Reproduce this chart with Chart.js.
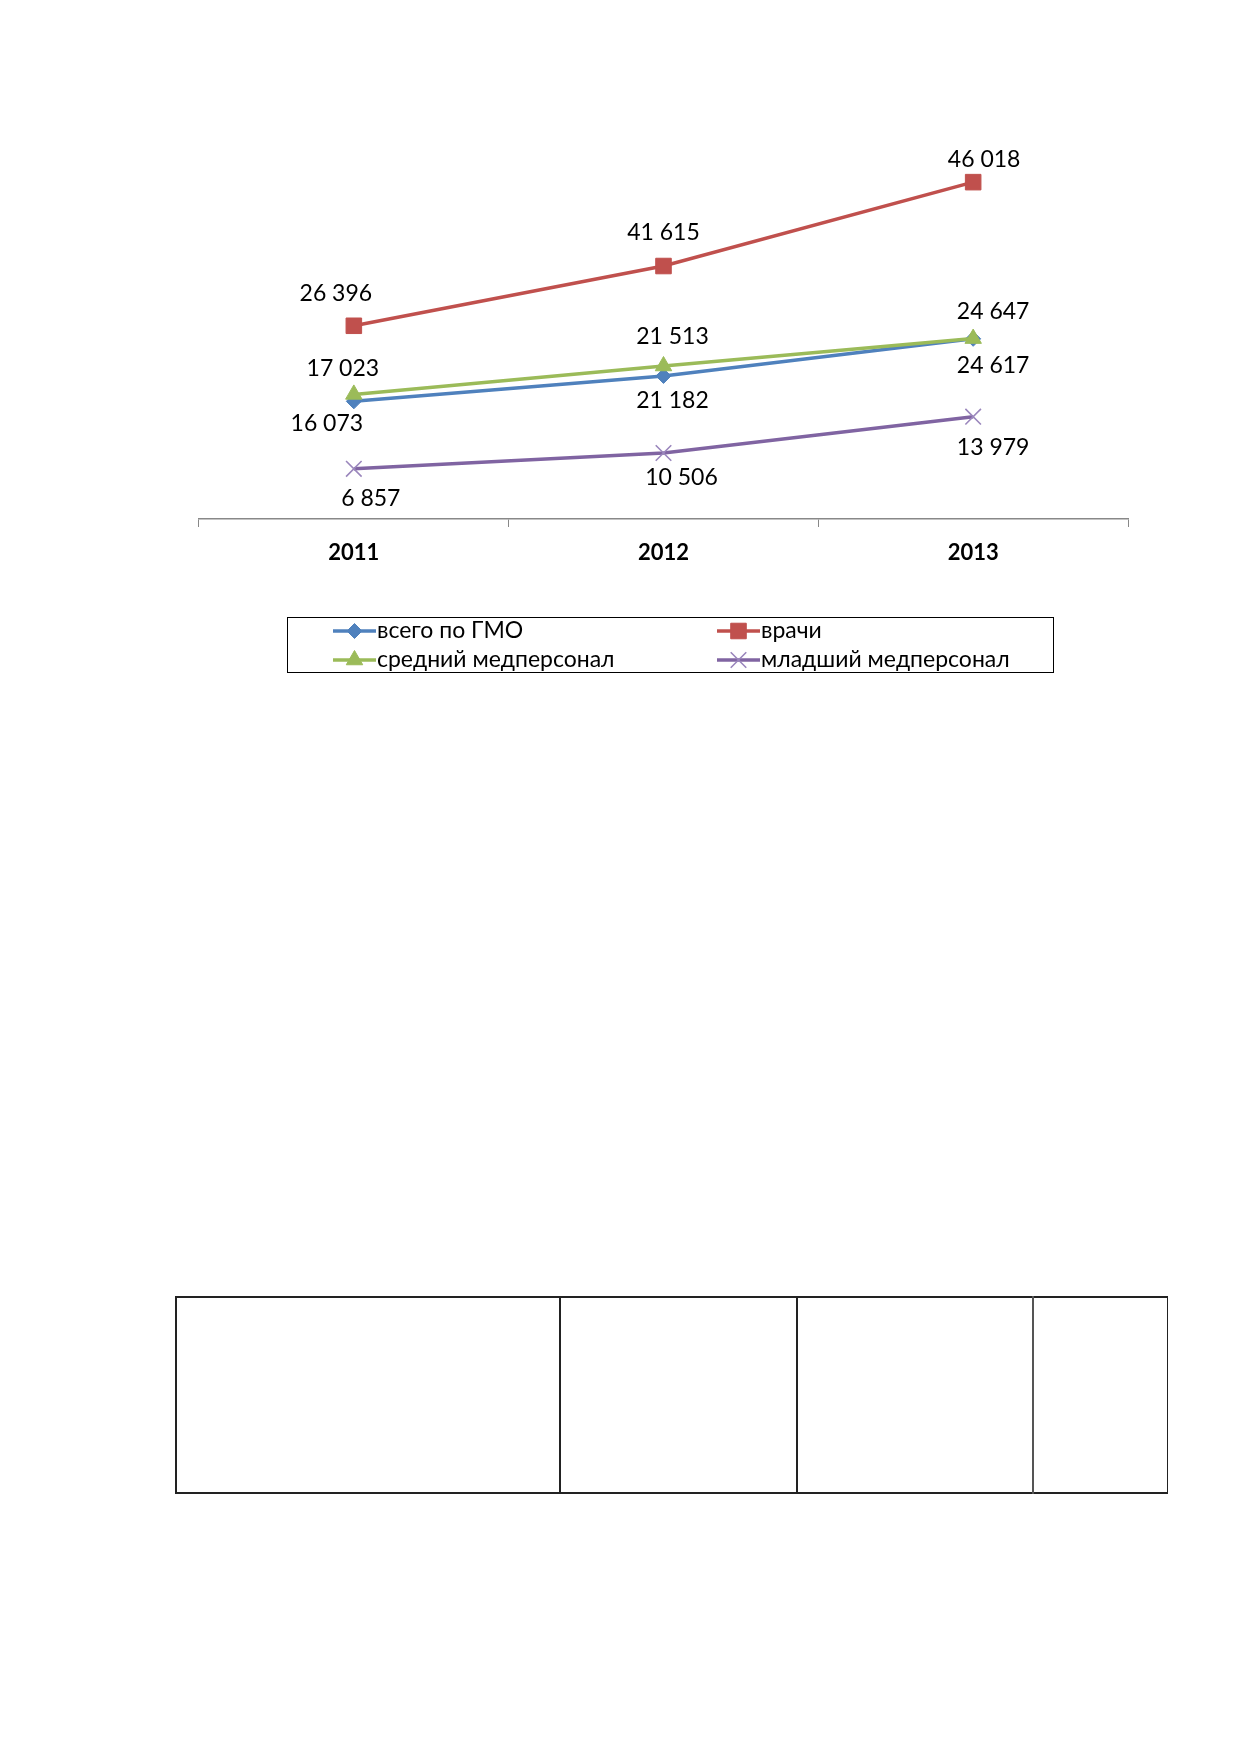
<!DOCTYPE html>
<html>
<head>
<meta charset="utf-8">
<script src="https://cdn.jsdelivr.net/npm/chart.js@4.4.0/dist/chart.umd.min.js"></script>
<style>
  html, body { margin: 0; padding: 0; background: #ffffff; }
  body { width: 1239px; height: 1752px; position: relative; overflow: hidden; }
  #wrap { position: absolute; left: 0; top: 0; width: 1239px; height: 700px; }
  .tbl { position: absolute; box-sizing: border-box; border-color: #222; border-style: solid; border-width: 0; }
</style>
</head>
<body>
<div id="wrap"><canvas id="c" width="1239" height="700"></canvas></div>
<div class="tbl" style="left:175px; top:1296px; width:993px; height:198px; border-width:2px 1px 2px 2px;"></div>
<div class="tbl" style="left:559px; top:1296px; width:2px; height:198px; border-left-width:2px;"></div>
<div class="tbl" style="left:796px; top:1296px; width:2px; height:198px; border-left-width:2px;"></div>
<div class="tbl" style="left:1032px; top:1296px; width:2px; height:198px; border-left-width:2px; border-color:#555;"></div>
<script>
// ---- data ----
const categories = ['2011', '2012', '2013'];
const seriesNames = ['всего по ГМО', 'врачи', 'средний медперсонал', 'младший медперсонал'];
const totalValues   = [16073, 19540, 24617];
const doctorValues  = [26396, 34560, 46018];
const nurseValues   = [17023, 20900, 24647];
const juniorValues  = [6857, 9020, 13979];
const totalLabels   = ['16 073', '21 182', '24 617'];
const doctorLabels  = ['26 396', '41 615', '46 018'];
const nurseLabels   = ['17 023', '21 513', '24 647'];
const juniorLabels  = ['6 857', '10 506', '13 979'];
const yMin = 0, yMax = 50000;

// ---- styling ----
const FONT = 'Lato, "Open Sans", "DejaVu Sans", sans-serif';
const colors = ['#4F81BD', '#C0504D', '#9BBB59', '#8064A2'];
const pointStyles = ['rectRot', 'rect', 'triangle', 'crossRot'];
const pointRadii = [7.5, 11, 9.5, 11];
const labelSets = [totalLabels, doctorLabels, nurseLabels, juniorLabels];
// label offsets (px) relative to each point
const labelOffsets = [
  [[-27, 22], [9, 25], [20, 27]],
  [[-18, -32], [0, -33], [11, -23]],
  [[-11, -26], [9, -29], [20, -27]],
  [[17, 30], [18, 25], [20, 31]]
];

function makeDataset(i, values) {
  const isCross = pointStyles[i] === 'crossRot';
  return {
    label: seriesNames[i],
    data: values,
    borderColor: colors[i],
    backgroundColor: colors[i],
    borderWidth: 3.5,
    pointStyle: pointStyles[i],
    pointRadius: pointRadii[i],
    pointHoverRadius: pointRadii[i],
    pointBackgroundColor: isCross ? '#9A86BC' : colors[i],
    pointBorderColor: isCross ? '#9A86BC' : colors[i],
    pointBorderWidth: isCross ? 1.6 : 1,
    tension: 0,
    order: i === 2 ? 0 : 1
  };
}

const dataLabelPlugin = {
  id: 'dataLabelPlugin',
  afterDatasetsDraw(chart) {
    const ctx = chart.ctx;
    ctx.save();
    ctx.font = '23px ' + FONT;
    ctx.fillStyle = '#000';
    ctx.textAlign = 'center';
    ctx.textBaseline = 'middle';
    chart.data.datasets.forEach((ds, di) => {
      const meta = chart.getDatasetMeta(di);
      meta.data.forEach((pt, pi) => {
        const off = labelOffsets[di][pi];
        ctx.fillText(labelSets[di][pi], pt.x + off[0], pt.y + off[1]);
      });
    });
    ctx.restore();
  }
};

const legendPlugin = {
  id: 'legendBoxPlugin',
  afterDraw(chart) {
    const ctx = chart.ctx;
    const box = { x: 287, y: 617, w: 766, h: 55 };
    ctx.save();
    ctx.strokeStyle = '#000';
    ctx.lineWidth = 1;
    ctx.strokeRect(box.x + 0.5, box.y + 0.5, box.w, box.h);
    const cols = [333, 717];
    const rows = [631, 660];
    const lineLen = 43;
    ctx.font = '23px ' + FONT;
    ctx.textBaseline = 'middle';
    ctx.textAlign = 'left';
    chart.data.datasets.forEach((ds, i) => {
      const cx = cols[i % 2], cy = rows[Math.floor(i / 2)];
      ctx.strokeStyle = ds.borderColor;
      ctx.lineWidth = 3.5;
      ctx.beginPath();
      ctx.moveTo(cx, cy);
      ctx.lineTo(cx + lineLen, cy);
      ctx.stroke();
      ctx.fillStyle = ds.pointBackgroundColor;
      ctx.strokeStyle = ds.pointBorderColor;
      ctx.lineWidth = ds.pointBorderWidth;
      Chart.helpers.drawPoint(ctx, {
        pointStyle: ds.pointStyle,
        radius: ds.pointRadius,
        borderWidth: ds.pointBorderWidth,
        rotation: 0
      }, cx + lineLen / 2, cy);
      ctx.fillStyle = '#000';
      ctx.fillText(ds.label, cx + lineLen + 1, cy);
    });
    ctx.restore();
  }
};

new Chart(document.getElementById('c'), {
  type: 'line',
  data: {
    labels: categories,
    datasets: [
      makeDataset(0, totalValues),
      makeDataset(1, doctorValues),
      makeDataset(2, nurseValues),
      makeDataset(3, juniorValues)
    ]
  },
  options: {
    responsive: false,
    animation: false,
    devicePixelRatio: 1,
    layout: { padding: { left: 199, right: 111, top: 153, bottom: 121 } },
    plugins: { legend: { display: false }, tooltip: { enabled: false } },
    scales: {
      x: {
        type: 'category',
        offset: true,
        afterFit: (s) => { s.height = 60; },
        grid: { display: true, drawOnChartArea: false, drawTicks: true, tickLength: 8, color: '#888888', offset: true, lineWidth: 1 },
        border: { display: true, color: '#888888', width: 1.5 },
        ticks: { color: '#000', font: { family: FONT, size: 22, weight: 'bold' }, padding: 13 }
      },
      y: {
        display: false,
        min: yMin,
        max: yMax
      }
    }
  },
  plugins: [dataLabelPlugin, legendPlugin]
});
</script>
</body>
</html>
